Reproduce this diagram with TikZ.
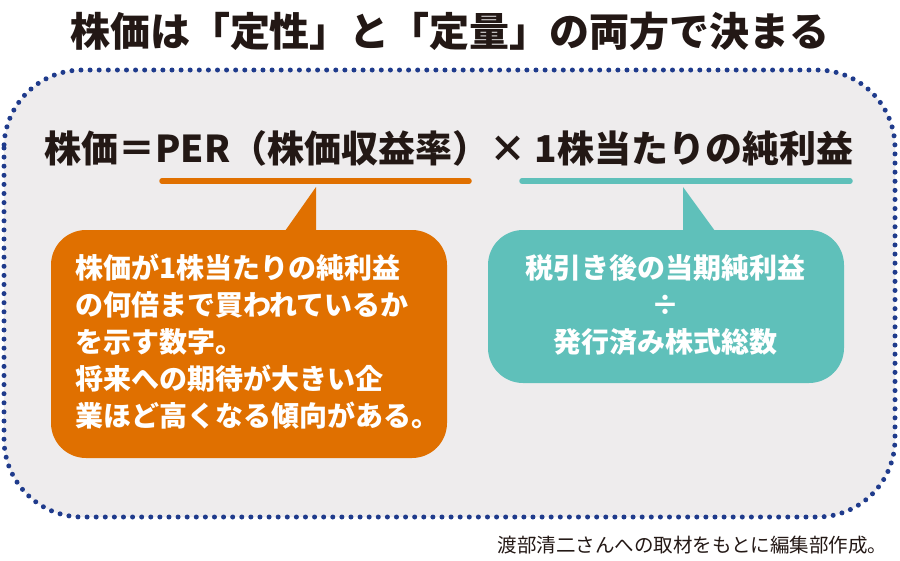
\documentclass[tikz,border=0pt]{standalone}
\usepackage{fontspec}
\setmainfont{Noto Sans CJK JP}
\usepackage{xcolor}
\usetikzlibrary{positioning}
\definecolor{ink}{HTML}{231815}
\definecolor{navy}{HTML}{1F3B8C}
\definecolor{panel}{HTML}{EEECED}
\definecolor{rust}{HTML}{E07000}
\definecolor{teal}{HTML}{5FC0BA}

\begin{document}
\begin{tikzpicture}[x=1pt,y=-1pt,
  bubbletext/.style={text=white,font=\fontsize{28}{37}\selectfont\bfseries,inner sep=0pt},
  underbar/.style={line width=5.5pt,line cap=round}]
  \useasboundingbox (0,0) rectangle (900,560);
  % dotted frame
  \fill[panel] (4,70) [rounded corners=78pt] rectangle (895,517);
  \draw[navy,line width=5pt,line cap=round,dash pattern=on 0pt off 9.1pt]
    (4,70) [rounded corners=78pt] rectangle (895,517);
  \node[font=\fontsize{40}{40}\selectfont\bfseries,text=ink] (title) at (450,31)
    {株価は「定性」と「定量」の両方で決まる};
  \node[font=\fontsize{37}{37}\selectfont\bfseries,text=ink] (formula) at (449,148)
    {株価＝PER（株価収益率）× 1株当たりの純利益};
  \draw[underbar,rust] (162,181) -- (469,181);
  \draw[underbar,teal] (522,181) -- (850,181);
  % callouts
  \fill[rust] (51,230) [rounded corners=35pt] rectangle (447,458);
  \fill[rust] (285,231) -- (316,187) -- (316,231) -- cycle;
  \fill[teal] (488,230) [rounded corners=35pt] rectangle (844,383);
  \fill[teal] (683,231) -- (683,187) -- (715,231) -- cycle;
  \node[bubbletext,align=left,anchor=north west] (per) at (75,254)
    {株価が1株当たりの純利益\\の何倍まで買われているか\\を示す数字。\\将来への期待が大きい企\\業ほど高くなる傾向がある。};
  \node[bubbletext,align=center,anchor=north] (eps) at (665,254)
    {税引き後の当期純利益\\÷\\発行済み株式総数};
  \node[font=\fontsize{19.5}{19.5}\selectfont,text=ink,anchor=east] (src) at (891,545)
    {渡部清二さんへの取材をもとに編集部作成。};
\end{tikzpicture}
\end{document}
